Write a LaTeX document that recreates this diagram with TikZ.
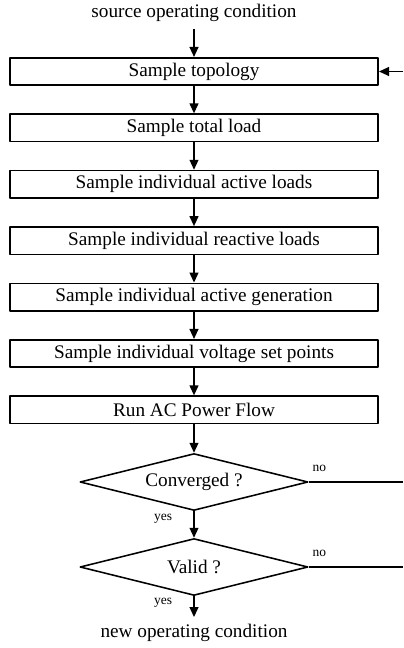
\documentclass[tikz,border=0pt]{standalone}
\usepackage{fontspec}
\setmainfont{Liberation Serif}
\usetikzlibrary{shapes.geometric,arrows.meta}

\tikzset{
  stepbox/.style={draw, line width=0.8pt, minimum width=191.6pt, minimum height=14.3pt, inner sep=0pt},
  testbox/.style={draw, shape=diamond, line width=0.8pt, minimum width=118.6pt, minimum height=29.6pt, inner sep=0pt, aspect=4},
  yeslabel/.style={font=\scriptsize, anchor=east, inner sep=0pt, xshift=-11pt},
  nolabel/.style={font=\scriptsize, anchor=south west, inner sep=0pt, xshift=1.6pt, yshift=5pt},
}

\begin{document}
\begin{tikzpicture}[x=0.52pt, y=-0.52pt, font=\normalsize, line join=round, line width=0.8pt, >={Triangle[length=5.2pt,width=4.6pt]}]
  \useasboundingbox (0,0) rectangle (403,648);
  \node (src) at (194,13) {source operating condition};
  \foreach \name/\txt [count=\i from 0] in {topo/Sample topology, total/Sample total load, act/Sample individual active loads, react/Sample individual reactive loads, gen/Sample individual active generation, volt/Sample individual voltage set points, pf/Run AC Power Flow}
    \node[stepbox] (\name) at (194,71.5+56.4*\i) {\txt};
  \node[testbox] (conv) at (194,482) {Converged ?};
  \node[testbox] (valid) at (194,567) {Valid ?};
  \node (new) at (194,633) {new operating condition};
  \coordinate (back) at (403,71.5);
  \coordinate (convno) at (403,482);
  \coordinate (validno) at (403,567);

  \draw[->] (src) -- (topo);
  \foreach \a/\b in {topo/total, total/act, act/react, react/gen, gen/volt, volt/pf, pf/conv}
    \draw[->] (\a) -- (\b);
  \draw[->] (conv) -- node[yeslabel, pos=0.3] {yes} (valid);
  \draw[->] (valid) -- node[yeslabel, pos=0.3] {yes} (new);
  \draw (conv.east) -- node[nolabel, pos=0] {no} (convno);
  \draw (valid.east) -- node[nolabel, pos=0] {no} (validno);
  \draw[->] (back) -- (topo.east);
\end{tikzpicture}
\end{document}
